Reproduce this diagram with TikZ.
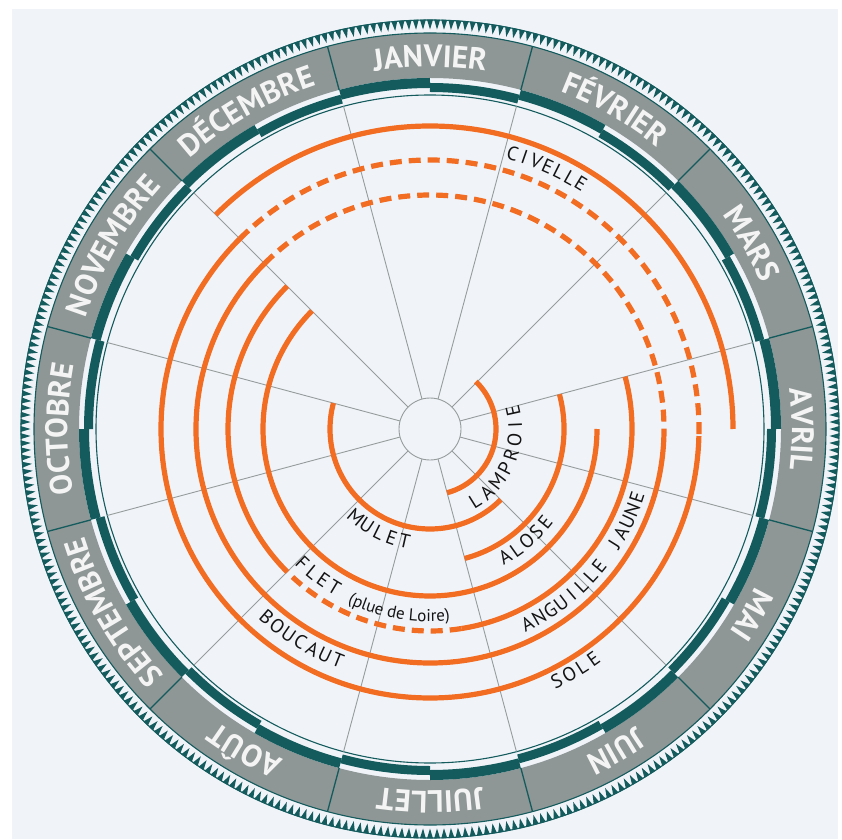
\documentclass[tikz,border=0pt]{standalone}
\usepackage{fontspec}
\usetikzlibrary{decorations.text}
\newfontfamily\mfam{PT Sans}
\newfontfamily\lfam{PT Sans}
\newcommand\mfont{\fontsize{31}{31}\selectfont\mfam\bfseries}
\newcommand\lfont{\fontsize{19.5}{19.5}\selectfont\lfam}
\newcommand\sfont{\fontsize{17}{17}\selectfont\lfam}
\definecolor{bgc}{RGB}{240,244,249}
\definecolor{tealc}{RGB}{19,91,93}
\definecolor{greyc}{RGB}{142,150,150}
\definecolor{orng}{RGB}{242,108,34}
\definecolor{spokec}{RGB}{150,156,156}
\definecolor{monthc}{RGB}{244,244,244}
\definecolor{labc}{RGB}{20,20,20}
\newcommand\monthlabel[2]{\path[decorate,decoration={text along path,text={|\mfont|#2},text align=center,text color=monthc}] (#1+25:362) arc[start angle=#1+25,end angle=#1-25,radius=362];}
% #1 prefix, #2 centre angle, #3 baseline radius, #4 angular step, #5 number of letters, #6 direction (1 ccw, -1 cw), #7 slot offset, #8 letters
\newcommand\letterarc[8]{%
  \foreach \ch [count=\i] in {#8} {
    \pgfmathsetmacro\th{#2+#6*((\i-1)-(#5-1)/2+#7)*#4}
    \pgfmathsetmacro\rt{\th+#6*90}
    \node[lettr,rotate=\rt] (#1-\i) at (\th:#3) {\ch};
  }}
\begin{document}
\begin{tikzpicture}[x=1pt,y=1pt,
  orangearc/.style={draw=orng,line width=5.2pt},
  dasharc/.style={draw=orng,line width=5.2pt,dash pattern=on 12pt off 7pt},
  spokeline/.style={draw=spokec,line width=0.9pt},
  tealline/.style={draw=tealc,line width=1.1pt},
  lettr/.style={inner sep=0pt,anchor=base,font=\lfont,text=labc}]
\useasboundingbox (0,0) rectangle (842,839);
\fill[white] (0,0) rectangle (842,839);
\fill[bgc] (12,0) rectangle (838,830);
\begin{scope}[shift={(430,410)}]
  % teeth ring
  \draw[tealline] (0,0) circle[radius=409];
  \foreach \a in {0,...,359} \fill[tealc] (\a-0.42:409.5) -- (\a+0.42:409.5) -- (\a:399.5) -- cycle;
  % grey month band
  \fill[greyc,even odd rule] (0,0) circle[radius=396] (0,0) circle[radius=351];
  \draw[tealline] (0,0) circle[radius=396];
  \foreach \a in {15,45,...,345} \draw[tealline,line width=1.3pt] (\a:351) -- (\a:396);
  % dark stepped band
  \draw[tealline] (0,0) circle[radius=334];
  \foreach \m in {0,...,11} {
    \pgfmathsetmacro\c{90-30*\m}
    \draw[tealc,line width=10pt] (\c+15:346) arc[start angle=\c+15,end angle=\c,radius=346];
    \draw[tealc,line width=9pt] (\c:341.5) arc[start angle=\c,end angle=\c-15,radius=341.5];
  }
  % spokes and hub
  \foreach \a in {15,45,...,345} \draw[spokeline] (\a:31) -- (\a:334);
  \draw[spokeline,fill=bgc] (0,0) circle[radius=31];
  % month names
  \monthlabel{90}{JANVIER}
  \monthlabel{60}{FÉVRIER}
  \monthlabel{30}{MARS}
  \monthlabel{0}{AVRIL}
  \monthlabel{-30}{MAI}
  \monthlabel{-60}{JUIN}
  \monthlabel{-90}{JUILLET}
  \monthlabel{-120}{AOÛT}
  \monthlabel{-150}{SEPTEMBRE}
  \monthlabel{-180}{OCTOBRE}
  \monthlabel{-210}{NOVEMBRE}
  \monthlabel{-240}{DÉCEMBRE}
  % orange arcs
  \draw[orangearc] (135:303) arc[start angle=135,end angle=0,radius=303];
  \draw[dasharc] (135:269) arc[start angle=135,end angle=-1.5,radius=269];
  \draw[orangearc] (-1.5:269) arc[start angle=-1.5,end angle=-225,radius=269];
  \draw[dasharc] (135:234) arc[start angle=135,end angle=-2,radius=234];
  \draw[orangearc] (-2:234) arc[start angle=-2,end angle=-225,radius=234];
  \draw[orangearc] (15:202) arc[start angle=15,end angle=-81,radius=202];
  \draw[dasharc] (-81:202) arc[start angle=-81,end angle=-135,radius=202];
  \draw[orangearc] (-135:202) arc[start angle=-135,end angle=-225,radius=202];
  \draw[orangearc] (0:167) arc[start angle=0,end angle=-225,radius=167];
  \draw[orangearc] (15:134) arc[start angle=15,end angle=-75,radius=134];
  \draw[orangearc] (-45:100) arc[start angle=-45,end angle=-195,radius=100];
  \draw[orangearc] (46:66) arc[start angle=46,end angle=-75,radius=66];
  % species labels
  \letterarc{civ}{65.85}{281}{2.483}{7}{-1}{0}{C,I,V,E,L,L,E}
  \letterarc{lam}{-22.75}{92}{10.07}{8}{1}{0}{L,A,M,P,R,O,I,E}
  \letterarc{alo}{-49.3}{155}{5.15}{5}{1}{0}{A,L,O,S,E}
  \letterarc{ang}{-40.8}{224.5}{3.477}{8}{1}{-3}{A,N,G,U,I,L,L,E}
  \letterarc{jau}{-40.8}{224.5}{3.477}{5}{1}{4.5}{J,A,U,N,E}
  \letterarc{sol}{-58.95}{289}{2.9}{4}{1}{0}{S,O,L,E}
  \letterarc{mul}{-116.35}{122}{6.825}{5}{1}{0}{M,U,L,E,T}
  \letterarc{bou}{-121.35}{256}{3.217}{7}{1}{0}{B,O,U,C,A,U,T}
  \letterarc{fle}{-127.25}{192}{4.167}{4}{1}{0}{F,L,E,T}
  \path[decorate,decoration={text along path,text={|\sfont|(plue de Loire)},text align=center,text color=labc}] (-170:192.5) arc[start angle=-170,end angle=-29.4,radius=192.5];
\end{scope}
\end{tikzpicture}
\end{document}
